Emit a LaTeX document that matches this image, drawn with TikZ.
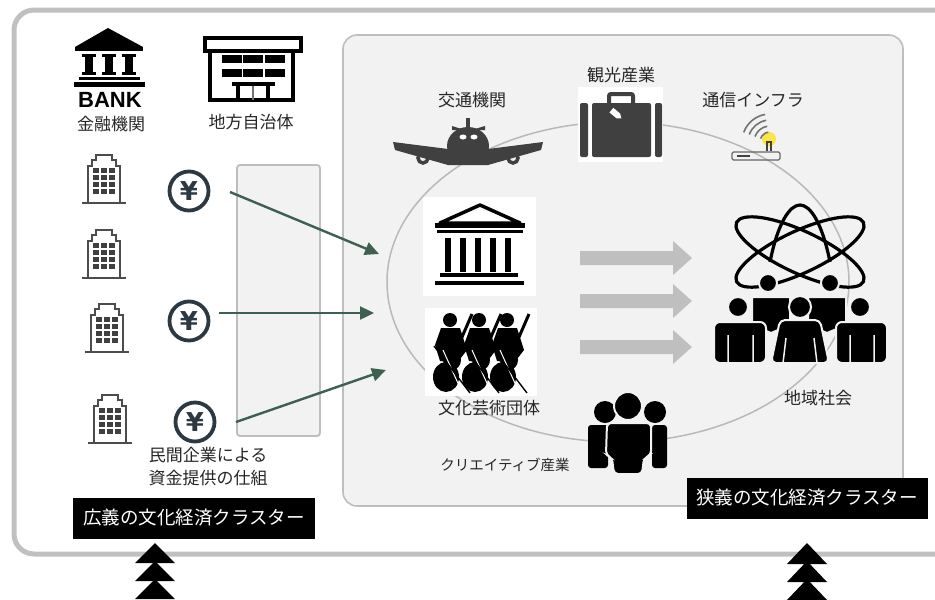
\documentclass[tikz,border=0pt]{standalone}
\usepackage{fontspec}
\setmainfont{Noto Sans CJK JP}
\newfontfamily\bankfont{Liberation Sans}
\newfontfamily\yenfont{DejaVu Sans}
\usetikzlibrary{arrows.meta}

\begin{document}
\begin{tikzpicture}[x=1pt,y=-1pt]
	\definecolor{frame line}{RGB}{192,192,192}
	\definecolor{panel}{RGB}{242,242,242}
	\definecolor{panel line}{RGB}{190,190,190}
	\definecolor{ring}{RGB}{185,185,185}
	\definecolor{fund}{RGB}{62,96,80}
	\definecolor{coin}{RGB}{44,56,66}
	\definecolor{icon}{RGB}{64,64,64}
	\definecolor{ink}{RGB}{38,38,38}
	\definecolor{flow}{RGB}{191,191,191}
	\definecolor{signal}{RGB}{250,228,70}
	\tikzset{iconlabel/.style={text=ink, inner sep=0pt, font=\fontsize{17}{21}\selectfont},
		cluster/.style={fill=black, text=white, inner sep=0pt, minimum height=41pt, font=\fontsize{18.5}{22}\selectfont},
		yen/.style={circle, draw=coin, line width=3.8pt, text=coin, minimum size=39pt, inner sep=0pt,
			font=\yenfont\bfseries\fontsize{26}{26}\selectfont},
		fundline/.style={draw=fund, line width=2.4pt, -{Triangle[length=14pt,width=13pt]}},
		office/.pic={
			\draw[black!70, line width=1.2pt] (-16,23) -- (-16,-14) -- (-12,-14) -- (-12,-20) -- (-8,-20)
				-- (-8,-25) -- (8,-25) -- (8,-20) -- (12,-20) -- (12,-14) -- (16,-14) -- (16,23);
			\draw[black!70, line width=1.2pt] (-22,23) -- (22,23);
			\foreach \wx in {-8,0,8}
				\foreach \wy in {-10,-3,4,11}
					\fill[black!75] (\wx-2.6,\wy-2) rectangle (\wx+2.6,\wy+2.6);
		}}
	\useasboundingbox (0,0) rectangle (935,600);

	% frames
	\draw[frame line, line width=5pt, rounded corners=20pt] (14,10) rectangle (990,554);
	\draw[panel line, fill=panel, line width=1.6pt, rounded corners=14pt] (343,35) rectangle (903,506);
	\draw[panel line, fill=panel, line width=1.8pt, rounded corners=3pt] (237,165) rectangle (320,436);
	\draw[ring, line width=1.5pt] (618,282) ellipse [x radius=231pt, y radius=160pt];

	% bank
	\fill (75,47) -- (108,28) -- (143,47) -- cycle;
	\fill (75,47) rectangle (143,51);
	\foreach \cx in {89,109,129} {
		\fill (\cx-7,54) rectangle (\cx+7,57);
		\fill (\cx-4,57) rectangle (\cx+4,72);
		\fill (\cx-7,72) rectangle (\cx+7,75);
	}
	\fill (79,77) rectangle (140,80);
	\fill (74,82) rectangle (145,87);
	\node[inner sep=0pt, font=\bankfont\bfseries\fontsize{22}{22}\selectfont] (bank) at (110,100) {BANK};
	\node[iconlabel] (finance) at (111,124) {金融機関};

	% town hall
	\draw[line width=4pt] (205,38) rectangle (301,51);
	\draw[line width=4.5pt] (210,51) -- (210,100) -- (293,100) -- (293,51);
	\foreach \wx in {222,243,265}
		\foreach \wy in {55,69}
			\fill (\wx,\wy) rectangle (\wx+20,\wy+8);
	\fill (232,82) rectangle (275,86);
	\fill (236,86) rectangle (240,100);
	\fill (266,86) rectangle (270,100);
	\fill[black!55] (252,86) rectangle (254,100);
	\node[iconlabel] (townhall) at (251,122) {地方自治体};

	% companies and money
	\pic (office1) at (104,180) {office};
	\pic (office2) at (104,255) {office};
	\pic (office3) at (107,329) {office};
	\pic (office4) at (110,420) {office};
	\node[yen] (yen1) at (189,191) {¥};
	\node[yen] (yen2) at (189,321) {¥};
	\node[yen] (yen3) at (195,422) {¥};
	\node[iconlabel, align=center, font=\fontsize{17}{23}\selectfont] (private) at (208,467) {民間企業による\\資金提供の仕組};
	\coordinate (f1) at (230,192);
	\coordinate (t1) at (379,254);
	\coordinate (f2) at (219,313);
	\coordinate (t2) at (374,313);
	\coordinate (f3) at (236,422);
	\coordinate (t3) at (386,370);
	\draw[fundline] (f1) -- (t1);
	\draw[fundline] (f2) -- (t2);
	\draw[fundline] (f3) -- (t3);

	% airplane
	\fill[icon] (393,142) -- (448,149) -- (488,149) -- (543,142) -- (541,150) -- (488,165) -- (448,165) -- (395,150) -- cycle;
	\fill[icon] (468,146) ellipse [x radius=21pt, y radius=19pt];
	\fill[icon] (466,118) rectangle (470,130);
	\fill[icon] (452,126) -- (468,131) -- (485,126) -- (485,130) -- (452,130) -- cycle;
	\fill[white] (463,137) ellipse [x radius=3.5pt, y radius=2.5pt];
	\fill[white] (474,137) ellipse [x radius=3.5pt, y radius=2.5pt];
	\draw[icon, line width=3.5pt] (423,158) circle (5pt) (513,158) circle (5pt);
	\node[iconlabel] (transport) at (472,100) {交通機関};

	% suitcase
	\fill[white] (578,87) rectangle (663,162);
	\fill[icon, rounded corners=2pt] (580,103) rectangle (588,157);
	\fill[icon, rounded corners=2pt] (592,103) rectangle (651,157);
	\fill[icon, rounded corners=2pt] (655,103) rectangle (662,157);
	\draw[icon, line width=4pt, rounded corners=2pt] (609,104) -- (609,94) -- (633,94) -- (633,104);
	\fill[white, rotate around={-40:(616,114)}] (610,111) -- (619,111) -- (623,114) -- (619,117) -- (610,117) -- cycle;
	\node[iconlabel] (tourism) at (621,75) {観光産業};

	% router
	\draw[icon!80, line width=1.3pt, rounded corners=1.5pt] (732,152) rectangle (780,160);
	\draw[icon, line width=2pt] (737,156) -- (750,156);
	\fill[signal] (769,139) circle (7pt);
	\draw[icon, line width=1.3pt] (767,151) -- (767,142) -- (771,142) -- (771,151);
	\foreach \rr in {10,16,22,28}
		\draw[black!55, line width=1.6pt] (770,142) ++(100:\rr pt) arc[start angle=100, end angle=160, radius=\rr pt];
	\node[iconlabel] (network) at (753,100) {通信インフラ};

	% museum
	\fill[white] (423,197) rectangle (536,296);
	\draw[line width=3.5pt, line join=round] (440,223) -- (480,205) -- (520,223) -- cycle;
	\fill (435,223) rectangle (525,228);
	\fill (437,230) rectangle (523,233);
	\foreach \cx in {448,463,478,493,508}
		\fill (\cx-3,238) rectangle (\cx+3,272);
	\fill (440,273) rectangle (518,277);
	\fill (435,281) rectangle (524,285);

	% orchestra
	\fill[white] (425,308) rectangle (537,396);
	\foreach \dx in {0,29,57} {
		\fill (450+\dx,320) circle (7pt);
		\fill (441+\dx,328) -- (460+\dx,328) -- (467+\dx,350) -- (457+\dx,363) -- (440+\dx,361) -- (435+\dx,345) -- cycle;
		\draw[line width=3pt] (452+\dx,360) -- (472+\dx,314);
		\fill (452+\dx,360) ellipse [x radius=9pt, y radius=10pt];
		\fill (446+\dx,377) ellipse [x radius=13pt, y radius=15pt];
		\draw[white, line width=1pt] (443+\dx,350) -- (461+\dx,390);
		\draw[line width=1.4pt] (434+\dx,346) -- (470+\dx,393);
	}
	\node[iconlabel] (arts) at (489,408) {文化芸術団体};

	% effects on the community
	\foreach \ya in {258,301,347}
		\fill[flow] (580,{\ya-7}) -- (673,{\ya-7}) -- (673,{\ya-17}) -- (692,\ya) -- (673,{\ya+17}) -- (673,{\ya+7}) -- (580,{\ya+7}) -- cycle;

	% creative people
	\fill (605,412) circle (11pt) (655,412) circle (11pt);
	\fill[rounded corners=3pt] (588,425) rectangle (608,468) (652,425) rectangle (667,468);
	\filldraw[draw=panel, line width=2pt] (628,406) circle (14pt);
	\filldraw[draw=panel, line width=2pt, rounded corners=4pt] (607,423) -- (651,423) -- (651,455) -- (644,458) -- (642,474) -- (614,474) -- (612,458) -- (606,455) -- cycle;
	\node[iconlabel, font=\fontsize{14.5}{18}\selectfont] (creative) at (505,465) {クリエイティブ産業};

	% community
	\draw[line width=3.2pt] (770,262) .. controls (778,222) and (790,205) .. (800,205)
		.. controls (810,205) and (822,222) .. (830,262);
	\draw[line width=3.2pt, rotate around={25:(800,252)}] (800,252) ellipse [x radius=70pt, y radius=21pt];
	\draw[line width=3.2pt, rotate around={-25:(800,252)}] (800,252) ellipse [x radius=70pt, y radius=21pt];
	\foreach \hx in {768,830}
		\filldraw[draw=panel, line width=2pt] (\hx,283) circle (9pt);
	\foreach \bx in {771,827}
		\filldraw[draw=panel, line width=2pt] (\bx-19,297) -- (\bx+19,297) -- (\bx+19,325) -- (\bx,333) -- (\bx-19,325) -- cycle;
	\foreach \hx/\hr in {738/10,800/11,860/10}
		\filldraw[draw=panel, line width=2pt] (\hx,307) circle (\hr pt);
	\filldraw[draw=panel, line width=2pt, rounded corners=6pt] (714,363) -- (714,322) -- (766,322) -- (766,363) -- cycle;
	\filldraw[draw=panel, line width=2pt, rounded corners=6pt] (836,363) -- (836,322) -- (887,322) -- (887,363) -- cycle;
	\filldraw[draw=panel, line width=2pt, rounded corners=5pt] (771,363) -- (780,320) -- (820,320) -- (829,363) -- cycle;
	\draw[panel, line width=1.5pt] (728,335) -- (728,363) (753,335) -- (753,363) (850,335) -- (850,363) (874,335) -- (874,363)
		(786,338) -- (783,363) (814,338) -- (817,363);
	\node[iconlabel] (community) at (818,398) {地域社会};

	% cluster labels and pointers
	\node[cluster, minimum width=242pt] (broad) at (194,518) {広義の文化経済クラスター};
	\node[cluster, minimum width=241pt] (narrow) at (807,498) {狭義の文化経済クラスター};
	\foreach \yc in {543,561,579} {
		\fill (135,\yc+20) -- (155,\yc) -- (175,\yc+20) -- cycle;
		\fill (787,\yc+21) -- (807,\yc) -- (827,\yc+21) -- cycle;
	}
\end{tikzpicture}
\end{document}
